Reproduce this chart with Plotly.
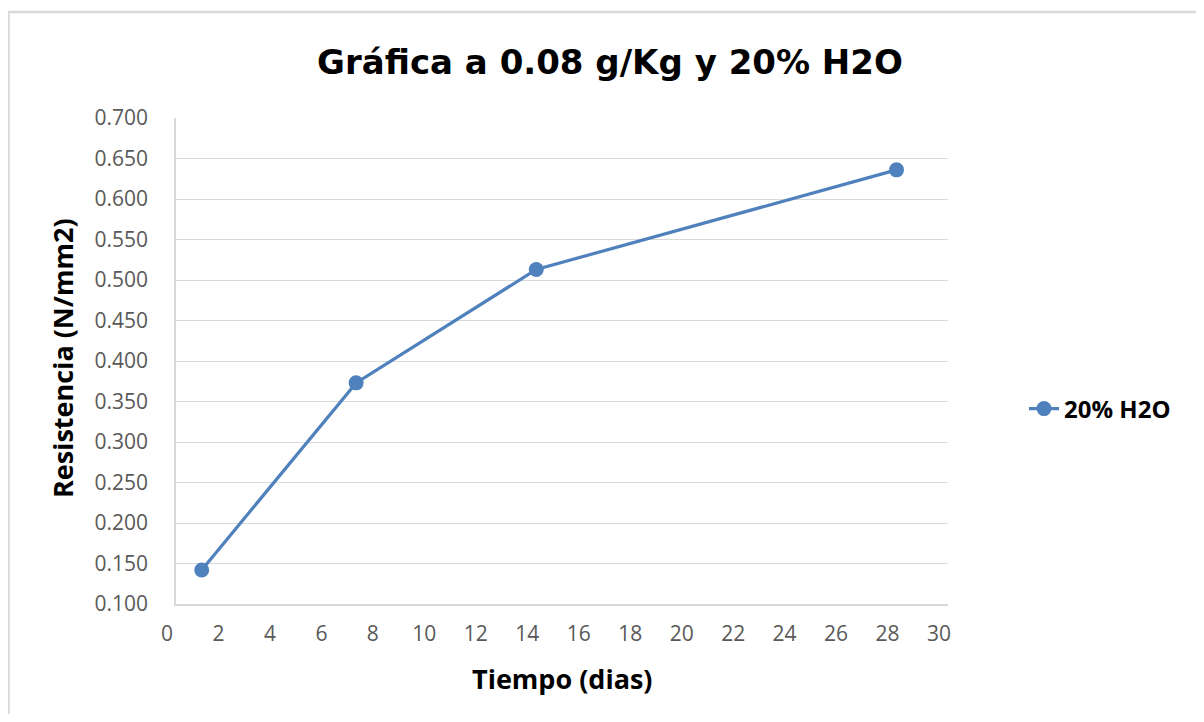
import plotly.graph_objects as go

dias = [1, 7, 14, 28]
resistencia = [0.142, 0.373, 0.513, 0.636]
serie = "20% H2O"
x_ticks = list(range(0, 31, 2))
y_ticks = [round(0.1 + 0.05 * i, 3) for i in range(13)]

OFF = 8  # page body margin
W, H = 1188, 706
L, R, T, B = 176 - OFF, 948 - OFF, 118 - OFF, 604 - OFF
pw, ph = R - L, B - T

def px(xs):
    return (xs - OFF - L) / pw

def py(ys):
    return (B - (ys - OFF)) / ph

fig = go.Figure()
fig.add_trace(go.Scatter(
    x=dias, y=resistencia, name=f"<b>{serie}</b>", mode="lines+markers",
    line=dict(color="#4f81bd", width=3.2),
    marker=dict(color="#4f81bd", size=15),
))

fig.update_layout(
    width=W, height=H,
    margin=dict(l=L, r=W - R, t=T, b=H - B),
    paper_bgcolor="white", plot_bgcolor="white",
    title=dict(text="<b>Gráfica a 0.08 g/Kg y 20% H2O</b>",
               font=dict(family="DejaVu Sans", size=34, color="black"),
               xref="container", yref="container",
               x=(610 - OFF) / W, xanchor="center",
               y=1 - (62 - OFF) / H, yanchor="middle"),
    showlegend=True,
    legend=dict(x=px(1024), y=py(409), xanchor="left", yanchor="middle",
                font=dict(family="Open Sans", size=24, color="black"),
                bgcolor="rgba(0,0,0,0)"),
    font=dict(family="Open Sans"),
)
fig.update_xaxes(
    range=[0, 30], tickvals=x_ticks, ticktext=[str(v) for v in x_ticks],
    showgrid=False, showline=True, linecolor="#d9d9d9", linewidth=1.5,
    zeroline=False, ticks="", ticklabelshift=-9, ticklabelstandoff=10,
    tickfont=dict(family="Open Sans", size=21, color="#595959"),
)
fig.update_yaxes(
    range=[0.1, 0.7], tickvals=y_ticks, ticktext=[f"{v:.3f}" for v in y_ticks],
    showgrid=True, gridcolor="#d9d9d9", gridwidth=1.2,
    showline=True, linecolor="#d9d9d9", linewidth=1.5,
    zeroline=False, ticks="", ticklabelstandoff=22,
    tickfont=dict(family="Open Sans", size=21, color="#595959"),
)
fig.add_annotation(text="<b>Tiempo (dias)</b>", xref="paper", yref="paper",
                   x=px(562), y=py(678), xanchor="center", yanchor="middle",
                   showarrow=False, font=dict(family="Open Sans", size=27, color="black"))
fig.add_annotation(text="<b>Resistencia (N/mm2)</b>", xref="paper", yref="paper",
                   x=px(62), y=py(358), xanchor="center", yanchor="middle", textangle=-90,
                   showarrow=False, font=dict(family="Open Sans", size=27, color="black"))
fig.add_shape(type="rect", xref="paper", yref="paper",
              x0=px(8.5), x1=px(1240), y0=py(760), y1=py(12),
              line=dict(color="#d9d9d9", width=2.5), fillcolor="rgba(0,0,0,0)", layer="below")
fig.write_html("out.html")
